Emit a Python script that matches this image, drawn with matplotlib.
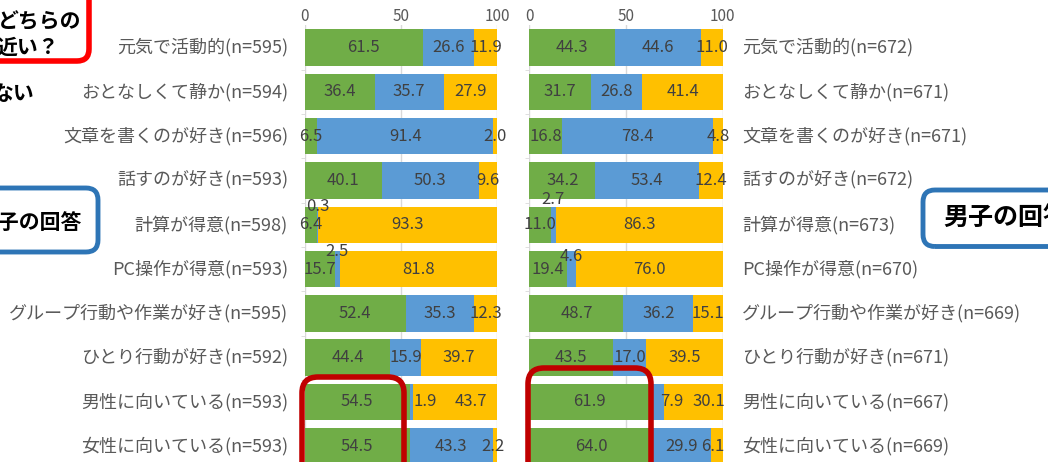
import matplotlib.pyplot as plt
from matplotlib.patches import FancyBboxPatch

plt.rcParams['font.family'] = ['Noto Sans CJK JP', 'DejaVu Sans']

# 女子の回答 (左)
labels_f = ["元気で活動的(n=595)", "おとなしくて静か(n=594)", "文章を書くのが好き(n=596)",
            "話すのが好き(n=593)", "計算が得意(n=598)", "PC操作が得意(n=593)",
            "グループ行動や作業が好き(n=595)", "ひとり行動が好き(n=592)",
            "男性に向いている(n=593)", "女性に向いている(n=593)"]
green_f = [61.5, 36.4, 6.5, 40.1, 6.4, 15.7, 52.4, 44.4, 54.5, 54.5]
blue_f = [26.6, 35.7, 91.4, 50.3, 0.3, 2.5, 35.3, 15.9, 1.9, 43.3]
yellow_f = [11.9, 27.9, 2.0, 9.6, 93.3, 81.8, 12.3, 39.7, 43.7, 2.2]

# 男子の回答 (右)
labels_m = ["元気で活動的(n=672)", "おとなしくて静か(n=671)", "文章を書くのが好き(n=671)",
            "話すのが好き(n=672)", "計算が得意(n=673)", "PC操作が得意(n=670)",
            "グループ行動や作業が好き(n=669)", "ひとり行動が好き(n=671)",
            "男性に向いている(n=667)", "女性に向いている(n=669)"]
green_m = [44.3, 31.7, 16.8, 34.2, 11.0, 19.4, 48.7, 43.5, 61.9, 64.0]
blue_m = [44.6, 26.8, 78.4, 53.4, 2.7, 4.6, 36.2, 17.0, 7.9, 29.9]
yellow_m = [11.0, 41.4, 4.8, 12.4, 86.3, 76.0, 15.1, 39.5, 30.1, 6.1]

colors = ['#70AD47', '#5B9BD5', '#FFC000']
W, H = 1048, 462

fig = plt.figure(figsize=(W / 100, H / 100), dpi=100)


def px(x, y):
    # pixel coords (top-left origin) -> inches
    return x / 100, (H - y) / 100


def panel(x0, x1, labels, series, side, shifts):
    ax = fig.add_axes([x0 / W, (H - 468.4) / H, (x1 - x0) / W, 443 / H])
    n = len(labels)
    ypos = list(range(n))
    left = [0] * n
    for k, (vals, c) in enumerate(zip(series, colors)):
        ax.barh(ypos, vals, left=left, color=c, height=0.82, zorder=2)
        for i, v in enumerate(vals):
            dx, dy = shifts.get((i, k), (0, 0))
            ax.text(left[i] + v / 2 + dx, i + dy, f'{v:.1f}', ha='center', va='center',
                    fontsize=12, color='#404040', zorder=3)
        left = [l + v for l, v in zip(left, vals)]
    ax.set_xlim(0, 100)
    ax.set_ylim(n - 0.5, -0.5)
    ax.set_xticks([0, 50, 100])
    ax.xaxis.tick_top()
    ax.tick_params(axis='x', length=0, pad=0, labelsize=11, labelcolor='#595959')
    ax.set_yticks([])
    ax.set_yticks([i + 0.5 for i in range(n - 1)], minor=True)
    ax.tick_params(axis='y', which='minor', length=3, color='#D9D9D9', left=True, right=False)
    ax.grid(axis='x', color='#D9D9D9', lw=1, zorder=0)
    ax.set_axisbelow(True)
    for s in ax.spines.values():
        s.set_visible(False)
    for i, lab in enumerate(labels):
        if side == 'left':
            ax.annotate(lab, xy=(0, i), xycoords=('axes fraction', 'data'), xytext=(-12, 0),
                        textcoords='offset points', ha='right', va='center',
                        fontsize=13, color='#595959')
        else:
            ax.annotate(lab, xy=(1, i), xycoords=('axes fraction', 'data'), xytext=(14, 0),
                        textcoords='offset points', ha='left', va='center',
                        fontsize=13, color='#595959')
    return ax


shifts_f = {(4, 1): (0, -0.42), (5, 1): (0, -0.39), (8, 1): (7, 0), (8, 2): (8, 0), (9, 2): (-1, 0)}
shifts_m = {(4, 1): (0, -0.58), (5, 1): (0, -0.28), (8, 1): (8, 0), (8, 2): (8, 0), (9, 2): (-2, 0)}

panel(304.7, 497.3, labels_f, [green_f, blue_f, yellow_f], 'left', shifts_f)
panel(529.3, 722.7, labels_m, [green_m, blue_m, yellow_m], 'right', shifts_m)


def rbox(x0, y0, x1, y1, color, lw, rad):
    bx, by = px(x0, y1)
    w, h = (x1 - x0) / 100, (y1 - y0) / 100
    p = FancyBboxPatch((bx, by), w, h, boxstyle=f'round,pad=0,rounding_size={rad / 100}',
                       transform=fig.dpi_scale_trans, fill=False, edgecolor=color, lw=lw,
                       clip_on=False, zorder=10)
    fig.add_artist(p)


# 強調枠
rbox(302, 377, 404, 490, '#C00000', 4, 16)
rbox(528, 368, 651, 490, '#C00000', 4, 16)
rbox(-40, -20, 89, 61, '#FF0000', 4, 12)
rbox(-40, 188, 98, 252, '#2E75B6', 3.5, 12)
rbox(923, 190, 1100, 246.5, '#2E75B6', 3.5, 12)


def ftext(x, y, s, ha, size=15):
    fx, fy = px(x, y)
    fig.text(fx / (W / 100), fy / (H / 100), s, ha=ha, va='center', fontsize=size,
             fontweight='bold', color='black')


ftext(81, 22, 'どちらの', 'right')
ftext(59, 47, '近い？', 'right')
ftext(34, 93, 'ない', 'right')
ftext(81, 222, '女子の回答', 'right')
ftext(943, 218, '男子の回答', 'left', 18)

fig.savefig('out.png', dpi=100)
